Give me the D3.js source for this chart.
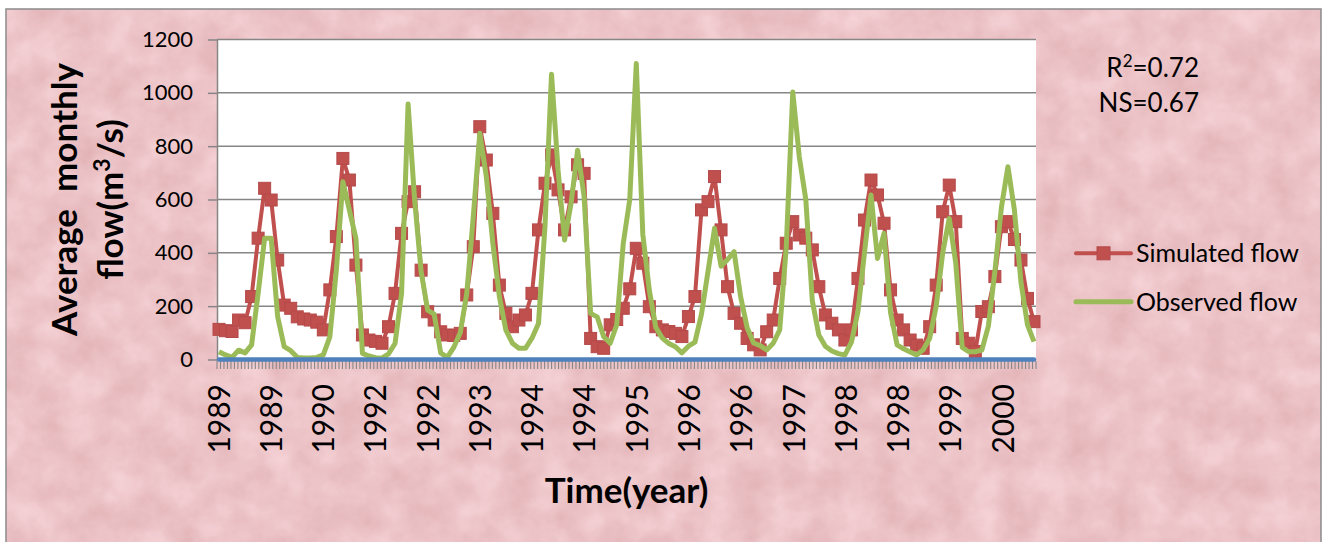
<!DOCTYPE html>
<html>
<head>
<meta charset="utf-8">
<script src="https://cdn.jsdelivr.net/npm/d3@7"></script>
<style>
  html, body { margin: 0; padding: 0; background: #ffffff; }
  svg { display: block; }
  text { font-family: Lato, "Open Sans", "DejaVu Sans", sans-serif; fill: #000; }
</style>
</head>
<body>
<svg id="chart" width="1329" height="542"></svg>
<script>
// ---- data -------------------------------------------------------------
// category axis: one tick per category, a year label every 15th category
const yearLabels = ["1989", "1989", "1990", "1992", "1992", "1993", "1994", "1994",
                    "1995", "1996", "1996", "1997", "1998", "1998", "1999", "2000"];
const categoryCount = 235;
const labelEvery = 15;

// average monthly flow (m3/s)
const simulatedFlow = [
  113, 108, 105, 148, 138, 236, 455, 642, 598, 373,
  204, 192, 160, 152, 148, 140, 111, 261, 461, 754,
  673, 354, 92, 73, 68, 61, 123, 248, 473, 592,
  629, 335, 179, 148, 104, 92, 90, 98, 242, 423,
  873, 748, 548, 279, 173, 123, 148, 167, 248, 486,
  661, 767, 636, 486, 610, 730, 698, 79, 48, 42,
  130, 150, 192, 265, 417, 361, 198, 123, 111, 105,
  98, 86, 161, 236, 561, 592, 686, 486, 273, 173,
  136, 79, 55, 36, 104, 148, 304, 436, 517, 467,
  455, 411, 273, 167, 136, 111, 73, 111, 304, 523,
  673, 617, 511, 261, 148, 111, 73, 54, 42, 123,
  279, 554, 654, 517, 79, 61, 30, 180, 198, 311,
  498, 517, 450, 373, 229, 142
];
const observedFlow = [
  29, 17, 8, 35, 25, 55, 248, 455, 455, 160,
  48, 33, 8, 6, 6, 8, 17, 85, 336, 667,
  560, 454, 23, 13, 7, 5, 21, 60, 248, 958,
  600, 330, 185, 170, 25, 8, 45, 100, 248, 535,
  848, 686, 436, 236, 110, 61, 42, 42, 80, 135,
  500, 1070, 711, 448, 586, 785, 611, 173, 160, 85,
  61, 130, 435, 600, 1110, 470, 260, 120, 80, 60,
  48, 25, 50, 65, 170, 330, 492, 350, 375, 404,
  236, 120, 62, 52, 36, 61, 111, 420, 1003, 760,
  600, 220, 92, 50, 32, 22, 17, 65, 180, 400,
  617, 379, 473, 175, 55, 40, 28, 17, 36, 80,
  200, 400, 529, 361, 45, 29, 29, 35, 125, 330,
  570, 723, 560, 290, 130, 67
];
const yTicks = [0, 200, 400, 600, 800, 1000, 1200];
const seriesNames = ["Simulated flow", "Observed flow"];
const fitStats = [["R", "2", "=0.72"], ["NS", "", "=0.67"]];

// ---- layout -----------------------------------------------------------
const W = 1329, H = 542;
const frame = { x: 6, y: 9, w: 1315, h: 540 };
const plot = { left: 217, right: 1036, top: 39.5, bottom: 359.5 };
const colors = { sim: "#C0504D", simEdge: "#B5494A", obs: "#9BBB59", base: "#4F81BD", grid: "#868686" };

const svg = d3.select("#chart");

// pink paper texture for the chart frame
const defs = svg.append("defs");
const paper = defs.append("filter").attr("id", "paper")
  .attr("filterUnits", "userSpaceOnUse")
  .attr("color-interpolation-filters", "sRGB")
  .attr("x", frame.x).attr("y", frame.y).attr("width", frame.w).attr("height", frame.h);
paper.append("feTurbulence").attr("type", "fractalNoise")
  .attr("baseFrequency", "0.03").attr("numOctaves", 4).attr("seed", 11);
paper.append("feColorMatrix").attr("type", "matrix")
  .attr("values", "0.09 0 0 0 0.88  0.15 0 0 0 0.69  0.15 0 0 0 0.705  0 0 0 0 1");

svg.append("rect")
  .attr("x", frame.x).attr("y", frame.y).attr("width", frame.w).attr("height", frame.h)
  .attr("fill", "#ECC3C6").attr("filter", "url(#paper)");
svg.append("rect")
  .attr("x", frame.x).attr("y", frame.y).attr("width", frame.w).attr("height", frame.h)
  .attr("fill", "none").attr("stroke", "#8a8a8a").attr("stroke-width", 1.5);

// plot area
svg.append("rect")
  .attr("x", plot.left).attr("y", plot.top)
  .attr("width", plot.right - plot.left).attr("height", plot.bottom - plot.top)
  .attr("fill", "#ffffff");

// ---- scales -----------------------------------------------------------
const y = d3.scaleLinear().domain([0, 1200]).range([plot.bottom, plot.top]);
const xCat = d3.scaleBand().domain(d3.range(categoryCount)).range([plot.left, plot.right]);
const x = d3.scaleLinear().domain([0, simulatedFlow.length - 1]).range([plot.left + 2, plot.right - 2]);

// horizontal gridlines
svg.append("g").selectAll("line").data(yTicks.filter(v => v > 0)).join("line")
  .attr("x1", plot.left).attr("x2", plot.right)
  .attr("y1", d => y(d)).attr("y2", d => y(d))
  .attr("stroke", colors.grid).attr("stroke-width", 1.5);

// value axis
const yAxis = svg.append("g").attr("transform", `translate(${plot.left},0)`)
  .call(d3.axisLeft(y).tickValues(yTicks).tickFormat(d3.format("d"))
    .tickSize(9).tickSizeOuter(0).tickPadding(15));
yAxis.select(".domain").attr("stroke", colors.grid).attr("stroke-width", 1.5);
yAxis.selectAll(".tick line").attr("stroke", colors.grid).attr("stroke-width", 1.5);
yAxis.selectAll(".tick text")
  .attr("font-family", "Lato, sans-serif").attr("font-size", 22).attr("fill", "#000");

// category axis: line, tick marks between categories, rotated year labels
svg.append("line")
  .attr("x1", plot.left).attr("x2", plot.right)
  .attr("y1", y(0)).attr("y2", y(0))
  .attr("stroke", colors.grid).attr("stroke-width", 1.5);
svg.append("g").selectAll("line").data(d3.range(categoryCount + 1)).join("line")
  .attr("x1", k => plot.left + k * xCat.step()).attr("x2", k => plot.left + k * xCat.step())
  .attr("y1", y(0) + 1.5).attr("y2", y(0) + 9.5)
  .attr("stroke", colors.grid).attr("stroke-width", 1.1);

svg.append("g").selectAll("text").data(yearLabels).join("text")
  .attr("transform", (d, i) =>
    `translate(${xCat(i * labelEvery) + xCat.bandwidth() / 2},384) rotate(-90)`)
  .attr("text-anchor", "end").attr("dy", "0.36em")
  .attr("font-size", 30)
  .text(d => d);

// ---- series -----------------------------------------------------------
const line = d3.line().x((d, i) => x(i)).y(d => y(d));

svg.append("path").datum(simulatedFlow)
  .attr("d", line).attr("fill", "none")
  .attr("stroke", colors.sim).attr("stroke-width", 4).attr("stroke-linejoin", "round");

const mk = 12;
svg.append("g").selectAll("rect").data(simulatedFlow).join("rect")
  .attr("x", (d, i) => x(i) - mk / 2).attr("y", d => y(d) - mk / 2)
  .attr("width", mk).attr("height", mk)
  .attr("fill", colors.sim).attr("stroke", colors.simEdge).attr("stroke-width", 1);

svg.append("path").datum(observedFlow)
  .attr("d", line).attr("fill", "none")
  .attr("stroke", colors.obs).attr("stroke-width", 5).attr("stroke-linejoin", "round");

// zero baseline along the category axis
svg.append("line")
  .attr("x1", x(0)).attr("x2", x(simulatedFlow.length - 1))
  .attr("y1", y(0)).attr("y2", y(0))
  .attr("stroke", colors.base).attr("stroke-width", 4.5).attr("stroke-linecap", "round");

// ---- titles -----------------------------------------------------------
const yTitle = svg.append("g")
  .attr("transform", `translate(77,${(plot.top + plot.bottom) / 2}) rotate(-90)`)
  .attr("font-weight", 700).attr("font-size", 35);
yTitle.append("text").attr("text-anchor", "middle").attr("y", 0)
  .style("white-space", "pre").text("Average  monthly");
const t2 = yTitle.append("text").attr("text-anchor", "middle").attr("y", 46);
t2.append("tspan").text("flow(m");
t2.append("tspan").attr("font-size", 23).attr("dy", -13).text("3");
t2.append("tspan").attr("dy", 13).text("/s)");

svg.append("text")
  .attr("x", (plot.left + plot.right) / 2).attr("y", 503)
  .attr("text-anchor", "middle").attr("font-weight", 700).attr("font-size", 35)
  .text("Time(year)");

// fit statistics
fitStats.forEach((s, i) => {
  const t = svg.append("text").attr("x", 1199).attr("y", 77 + i * 35)
    .attr("text-anchor", "end").attr("font-size", 26);
  t.append("tspan").text(s[0]);
  if (s[1]) {
    t.append("tspan").attr("font-size", 17).attr("dy", -10).text(s[1]);
    t.append("tspan").attr("dy", 10).text(s[2]);
  } else {
    t.append("tspan").text(s[2]);
  }
});

// ---- legend -----------------------------------------------------------
const legendRows = [253.3, 301.7];
const legend = svg.append("g");
seriesNames.forEach((name, i) => {
  const ly = legendRows[i];
  legend.append("line").attr("x1", 1076).attr("x2", 1131).attr("y1", ly).attr("y2", ly)
    .attr("stroke", i === 0 ? colors.sim : colors.obs).attr("stroke-width", i === 0 ? 4 : 5)
    .attr("stroke-linecap", "round");
  if (i === 0) {
    legend.append("rect").attr("x", 1103.5 - 6.5).attr("y", ly - 6.5)
      .attr("width", 13).attr("height", 13)
      .attr("fill", colors.sim).attr("stroke", colors.simEdge).attr("stroke-width", 1);
  }
  legend.append("text").attr("x", 1136).attr("y", ly).attr("dy", "0.36em")
    .attr("font-size", 25).text(name);
});
</script>
</body>
</html>
